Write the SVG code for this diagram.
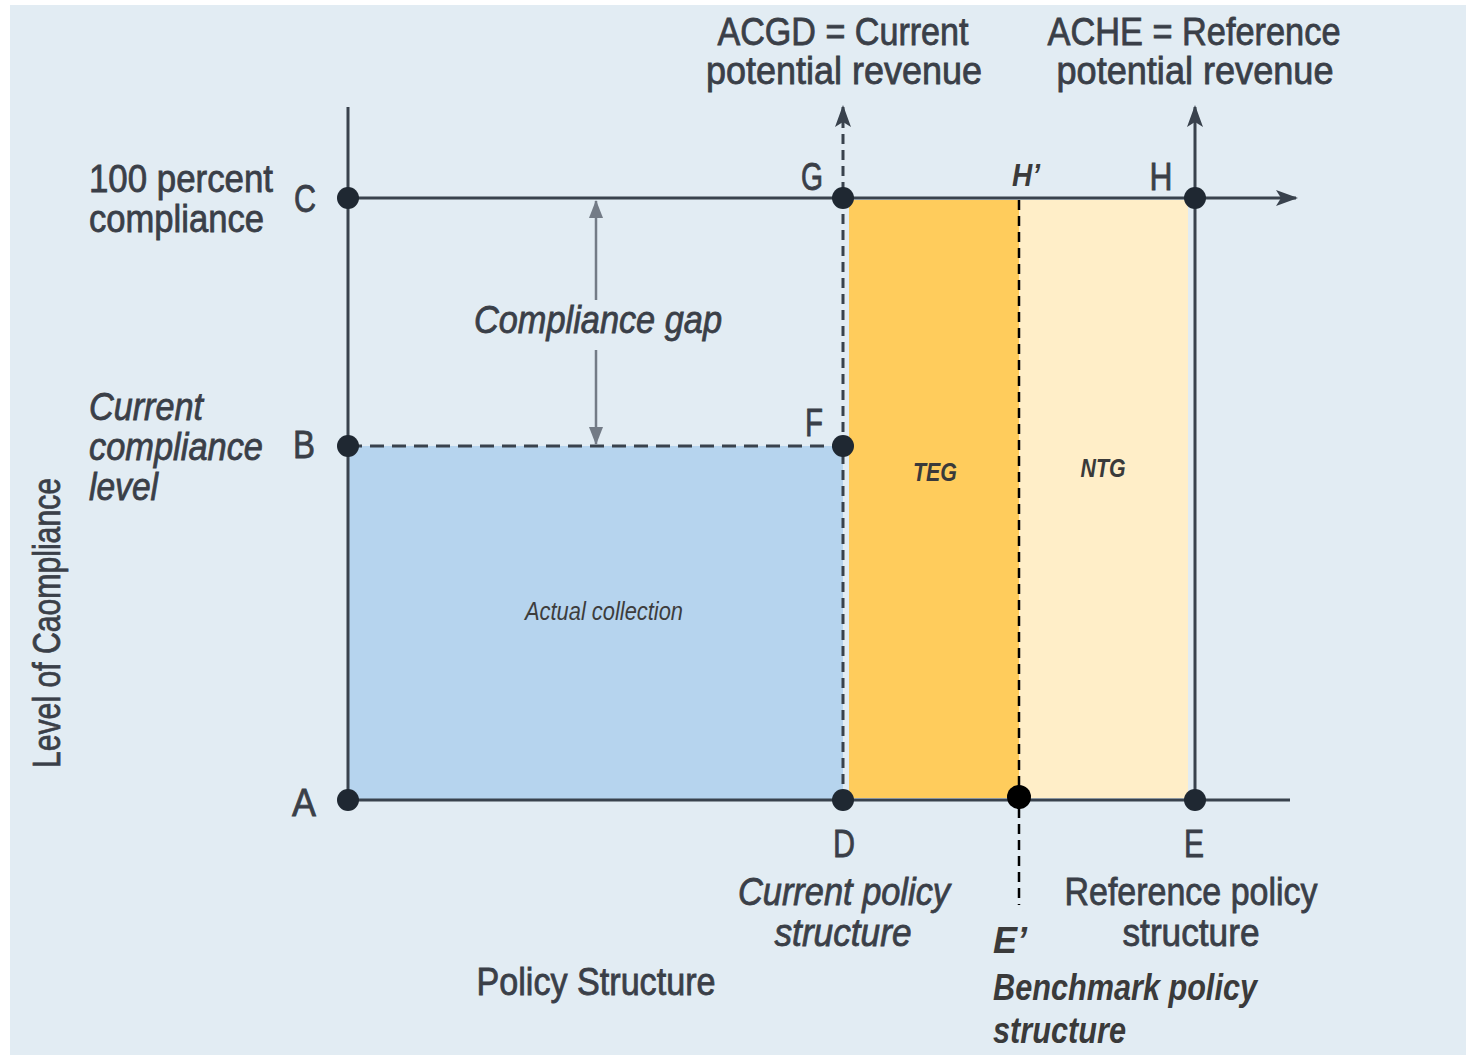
<svg xmlns="http://www.w3.org/2000/svg" width="1466" height="1056" viewBox="0 0 1466 1056">
<defs>
<style>
text{font-family:"Liberation Sans",Arial,sans-serif;fill:#3a3f48;}
.lab{font-size:38px;stroke:#3a3f48;stroke-width:0.8;}
.it{font-style:italic;}
.bi{font-style:italic;font-weight:bold;fill:#3a3a3a;}
.axis{stroke:#39424d;stroke-width:3;fill:none;}
.dash{stroke:#39424d;stroke-width:3;fill:none;stroke-dasharray:10 6;}
.dot{fill:#1f2832;}
.gap{stroke:#737b86;stroke-width:2.5;fill:none;}
</style>
<marker id="ah" viewBox="0 0 22 16" refX="20" refY="8" markerWidth="22" markerHeight="16" markerUnits="userSpaceOnUse" orient="auto">
<path d="M0,0 L22,8 L0,16 L5,8 Z" fill="#39424d"/>
</marker>
<marker id="ag" viewBox="0 0 18 14" refX="17" refY="7" markerWidth="18" markerHeight="14" markerUnits="userSpaceOnUse" orient="auto">
<path d="M0,0 L18,7 L0,14 Z" fill="#737b86"/>
</marker>
</defs>
<rect x="0" y="0" width="1466" height="1056" fill="#ffffff"/>
<rect x="10" y="5" width="1456" height="1050" fill="#e2ecf3"/>

<g id="areas">
<rect id="actual" x="349" y="446" width="494" height="354" fill="#b6d4ee"/>
<rect id="teg" x="849" y="200" width="170" height="598" fill="#ffcc5c"/>
<rect id="ntg" x="1019" y="200" width="169" height="598" fill="#ffeec8"/>
</g>

<g id="connectors">
<line class="axis" x1="348" y1="107" x2="348" y2="800"/>
<line class="axis" x1="348" y1="198" x2="1296" y2="198" marker-end="url(#ah)"/>
<line class="axis" x1="348" y1="800" x2="1290" y2="800"/>
<line class="dash" x1="843" y1="800" x2="843" y2="107" marker-end="url(#ah)"/>
<line class="axis" x1="1195" y1="800" x2="1195" y2="107" marker-end="url(#ah)"/>
<line class="dash" x1="348" y1="446" x2="843" y2="446" style="stroke-dasharray:14 8"/>
<line x1="1019" y1="200" x2="1019" y2="905" stroke="#000" stroke-width="2.5" stroke-dasharray="10 6"/>
<line class="gap" x1="596" y1="300" x2="596" y2="201" marker-end="url(#ag)"/>
<line class="gap" x1="596" y1="350" x2="596" y2="444" marker-end="url(#ag)"/>
</g>

<g id="points">
<circle class="dot" cx="348" cy="198" r="11"/>
<circle class="dot" cx="348" cy="446" r="11"/>
<circle class="dot" cx="348" cy="800" r="11"/>
<circle class="dot" cx="843" cy="198" r="11"/>
<circle class="dot" cx="843" cy="446" r="11"/>
<circle class="dot" cx="843" cy="800" r="11"/>
<circle class="dot" cx="1195" cy="198" r="11"/>
<circle class="dot" cx="1195" cy="800" r="11"/>
<ellipse cx="1019" cy="797" rx="12" ry="12" fill="#000"/>
</g>

<g id="point-labels">
<text class="lab" x="305" y="212" text-anchor="middle" textLength="22" lengthAdjust="spacingAndGlyphs">C</text>
<text class="lab" x="304" y="458" text-anchor="middle" textLength="22" lengthAdjust="spacingAndGlyphs">B</text>
<text class="lab" x="304" y="816" text-anchor="middle" textLength="24" lengthAdjust="spacingAndGlyphs">A</text>
<text class="lab" x="812" y="190" text-anchor="middle" textLength="22" lengthAdjust="spacingAndGlyphs">G</text>
<text class="lab" x="814" y="436" text-anchor="middle" textLength="18" lengthAdjust="spacingAndGlyphs">F</text>
<text class="lab" x="1161" y="190" text-anchor="middle" textLength="23" lengthAdjust="spacingAndGlyphs">H</text>
<text class="lab" x="844" y="857" text-anchor="middle" textLength="22" lengthAdjust="spacingAndGlyphs">D</text>
<text class="lab" x="1194" y="857" text-anchor="middle" textLength="20" lengthAdjust="spacingAndGlyphs">E</text>
<text class="bi" x="1012" y="186" font-size="32" textLength="28" lengthAdjust="spacingAndGlyphs">H’</text>
</g>

<g id="left-labels">
<text class="lab" x="89" y="192" textLength="184" lengthAdjust="spacingAndGlyphs">100 percent</text>
<text class="lab" x="89" y="232" textLength="175" lengthAdjust="spacingAndGlyphs">compliance</text>
<text class="lab it" x="89" y="420" textLength="114" lengthAdjust="spacingAndGlyphs">Current</text>
<text class="lab it" x="89" y="460" textLength="174" lengthAdjust="spacingAndGlyphs">compliance</text>
<text class="lab it" x="89" y="500" textLength="69" lengthAdjust="spacingAndGlyphs">level</text>
<text class="lab" transform="translate(60,768) rotate(-90)" textLength="290" lengthAdjust="spacingAndGlyphs">Level of Caompliance</text>
</g>

<g id="top-labels">
<text class="lab" x="843" y="45" text-anchor="middle" textLength="251" lengthAdjust="spacingAndGlyphs">ACGD = Current</text>
<text class="lab" x="844" y="84" text-anchor="middle" textLength="276" lengthAdjust="spacingAndGlyphs">potential revenue</text>
<text class="lab" x="1194" y="45" text-anchor="middle" textLength="293" lengthAdjust="spacingAndGlyphs">ACHE = Reference</text>
<text class="lab" x="1195" y="84" text-anchor="middle" textLength="277" lengthAdjust="spacingAndGlyphs">potential revenue</text>
</g>

<g id="area-labels">
<text class="lab it" x="598" y="333" text-anchor="middle" textLength="248" lengthAdjust="spacingAndGlyphs">Compliance gap</text>
<text class="it" x="604" y="620" text-anchor="middle" font-size="25" textLength="158" lengthAdjust="spacingAndGlyphs" style="fill:#3d3d3d">Actual collection</text>
<text class="bi" x="935" y="481" text-anchor="middle" font-size="25" textLength="44" lengthAdjust="spacingAndGlyphs">TEG</text>
<text class="bi" x="1103" y="477" text-anchor="middle" font-size="25" textLength="45" lengthAdjust="spacingAndGlyphs">NTG</text>
</g>

<g id="bottom-labels">
<text class="lab it" x="844" y="905" text-anchor="middle" textLength="212" lengthAdjust="spacingAndGlyphs">Current policy</text>
<text class="lab it" x="843" y="946" text-anchor="middle" textLength="137" lengthAdjust="spacingAndGlyphs">structure</text>
<text class="lab" x="1191" y="905" text-anchor="middle" textLength="253" lengthAdjust="spacingAndGlyphs">Reference policy</text>
<text class="lab" x="1191" y="946" text-anchor="middle" textLength="137" lengthAdjust="spacingAndGlyphs">structure</text>
<text class="lab" x="596" y="995" text-anchor="middle" textLength="239" lengthAdjust="spacingAndGlyphs">Policy Structure</text>
<text class="bi" x="993" y="953" font-size="36" textLength="34" lengthAdjust="spacingAndGlyphs">E’</text>
<text class="bi" x="993" y="1000" font-size="36" textLength="264" lengthAdjust="spacingAndGlyphs">Benchmark policy</text>
<text class="bi" x="993" y="1043" font-size="36" textLength="133" lengthAdjust="spacingAndGlyphs">structure</text>
</g>
</svg>
